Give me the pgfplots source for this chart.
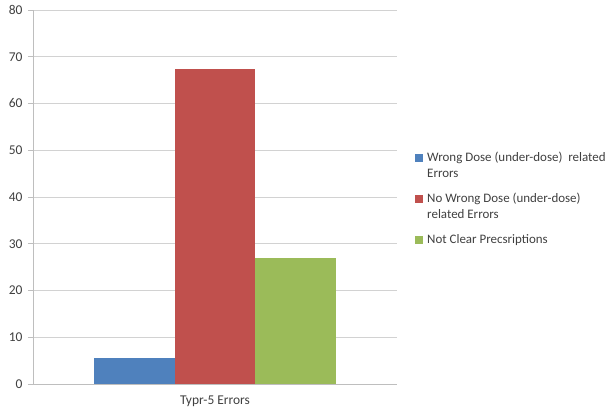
\documentclass[border=0pt]{standalone}
\usepackage{pgfplots}
\pgfplotsset{compat=1.18}
\usepackage{fontspec}
\setmainfont{Carlito}
\definecolor{c1}{RGB}{79,129,189}
\definecolor{c2}{RGB}{192,80,77}
\definecolor{c3}{RGB}{155,187,89}
\definecolor{gridc}{RGB}{210,210,210}
\definecolor{axc}{RGB}{190,190,190}
\definecolor{txt}{RGB}{64,64,64}
\pgfplotsset{twoline/.style={legend image code/.code={\fill[##1] (0bp,15.5bp) rectangle (8bp,23.5bp);}}}
\begin{document}
\begin{tikzpicture}
\useasboundingbox (-33bp,-27bp) rectangle (574bp,384bp);
\begin{axis}[
  at={(0,0)}, anchor=south west,
  scale only axis,
  width=364bp, height=374bp,
  ymin=0, ymax=80, ytick={0,10,...,80},
  xmin=-1, xmax=1,
  xtick={0}, xticklabels={Typr-5 Errors},
  extra x ticks={-1,1}, extra x tick labels={},
  extra x tick style={major tick length=5bp, tick style={axc, line width=0.8pt}},
  major x tick style={draw=none},
  major tick length=5bp,
  tick align=outside,
  ytick style={axc, line width=0.8pt},
  axis lines*=left,
  axis line style={axc, line width=0.8pt},
  ymajorgrids, grid style={gridc, line width=0.8pt},
  ybar=0pt, bar width=80.5bp,
  tick label style={font=\fontsize{13.5}{15}\selectfont, text=txt},
  /pgf/number format/assume math mode=true,
  yticklabel style={xshift=-2bp},
  xticklabel style={yshift=-3bp},
  legend style={at={(rel axis cs:1,0)}, anchor=north west, xshift=18bp, yshift=232bp,
    draw=none, fill=none, inner sep=0pt,
    font=\fontsize{13}{16}\selectfont, text=txt, nodes={inner sep=0pt, anchor=base west, align=left},
    row sep=14bp, column sep=4bp},
  legend cell align=left,
  legend image code/.code={\fill[#1] (0bp,-0.5bp) rectangle (8bp,7.5bp);},
]
\addplot[fill=c1, draw=none, twoline] coordinates {(0,5.5)};
\addplot[fill=c2, draw=none, twoline] coordinates {(0,67.4)};
\addplot[fill=c3, draw=none] coordinates {(0,27)};
\addlegendentry{Wrong Dose (under-dose)\ \ related\\Errors}
\addlegendentry{No Wrong Dose (under-dose)\\related Errors}
\addlegendentry{Not Clear Precsriptions}
\end{axis}
\end{tikzpicture}
\end{document}
